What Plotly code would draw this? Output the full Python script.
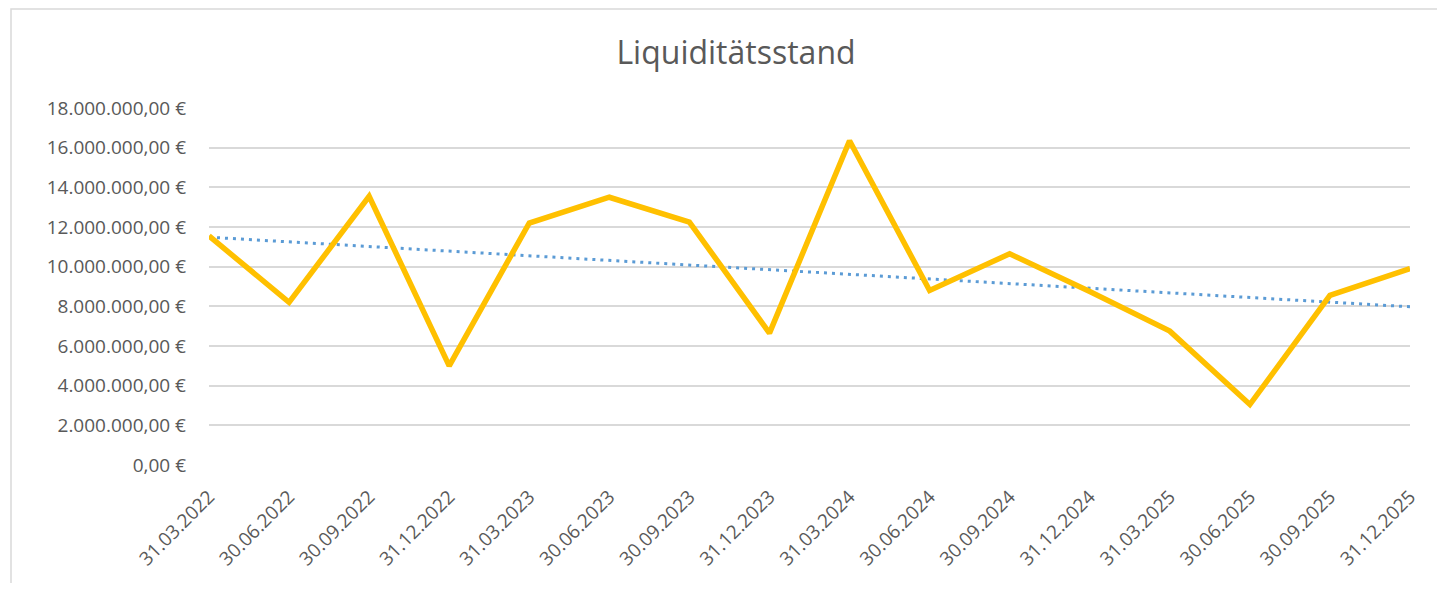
import numpy as np
import plotly.graph_objects as go

dates = ["31.03.2022", "30.06.2022", "30.09.2022", "31.12.2022",
         "31.03.2023", "30.06.2023", "30.09.2023", "31.12.2023",
         "31.03.2024", "30.06.2024", "30.09.2024", "31.12.2024",
         "31.03.2025", "30.06.2025", "30.09.2025", "31.12.2025"]
liquidity = [11550000, 8200000, 13550000, 5000000,
             12200000, 13500000, 12250000, 6650000,
             16350000, 8800000, 10650000, 8750000,
             6750000, 3050000, 8550000, 9900000]
y_ticks = [0, 2000000, 4000000, 6000000, 8000000, 10000000,
           12000000, 14000000, 16000000, 18000000]


def de_eur(v):
    s = f"{v:,.2f}"  # 18,000,000.00
    s = s.replace(",", "X").replace(".", ",").replace("X", ".")
    return s + " €"


y_labels = [de_eur(v) for v in y_ticks]

x_idx = np.arange(len(dates))
slope, intercept = np.polyfit(x_idx, liquidity, 1)
trend = slope * x_idx + intercept

fig = go.Figure()
fig.add_trace(go.Scatter(
    x=x_idx, y=trend, mode="lines",
    line=dict(color="#5B9BD5", width=3, dash="3px,5px"),
    showlegend=False, hoverinfo="skip"))
fig.add_trace(go.Scatter(
    x=x_idx, y=liquidity, mode="lines",
    line=dict(color="#FFC000", width=5.5),
    showlegend=False, name="Liquiditätsstand"))

font_family = "Open Sans, Noto Sans, Liberation Sans, sans-serif"
txt = "#595959"

# page body has an 8px margin: figure is placed at (8, 8); keep it inside the viewport
W, H = 1429, 575
fig.update_layout(
    width=W, height=H,
    paper_bgcolor="white", plot_bgcolor="white",
    margin=dict(l=201, r=27, t=100, b=118),
    title=dict(text="Liquiditätsstand", x=(736 - 8) / W, xref="container",
               xanchor="center", y=1 - 45 / H, yanchor="middle",
               font=dict(family=font_family, size=32, color=txt)),
    font=dict(family=font_family, size=19, color=txt),
    xaxis=dict(range=[0, len(dates) - 1], tickmode="array",
               tickvals=list(x_idx), ticktext=dates, tickangle=-45,
               showgrid=False, zeroline=False, showline=False,
               ticks="", ticklabelstandoff=16,
               tickfont=dict(family=font_family, size=19, color=txt)),
    yaxis=dict(range=[0, 18000000], tickmode="array", tickvals=y_ticks,
               ticktext=y_labels,
               showgrid=True, gridcolor="#D9D9D9", gridwidth=1.5,
               zeroline=False, showline=False, ticks="", ticklabelstandoff=22,
               tickfont=dict(family=font_family, size=19, color=txt)),
    shapes=[dict(type="rect", xref="paper", yref="paper",
                 x0=(11 - 209) / 1201, x1=(1700 - 209) / 1201,
                 y0=(465 - 700) / 357, y1=(465 - 9) / 357,
                 line=dict(color="#D9D9D9", width=1.5), layer="below")],
)

fig.write_html("out.html", config={"displayModeBar": False})
